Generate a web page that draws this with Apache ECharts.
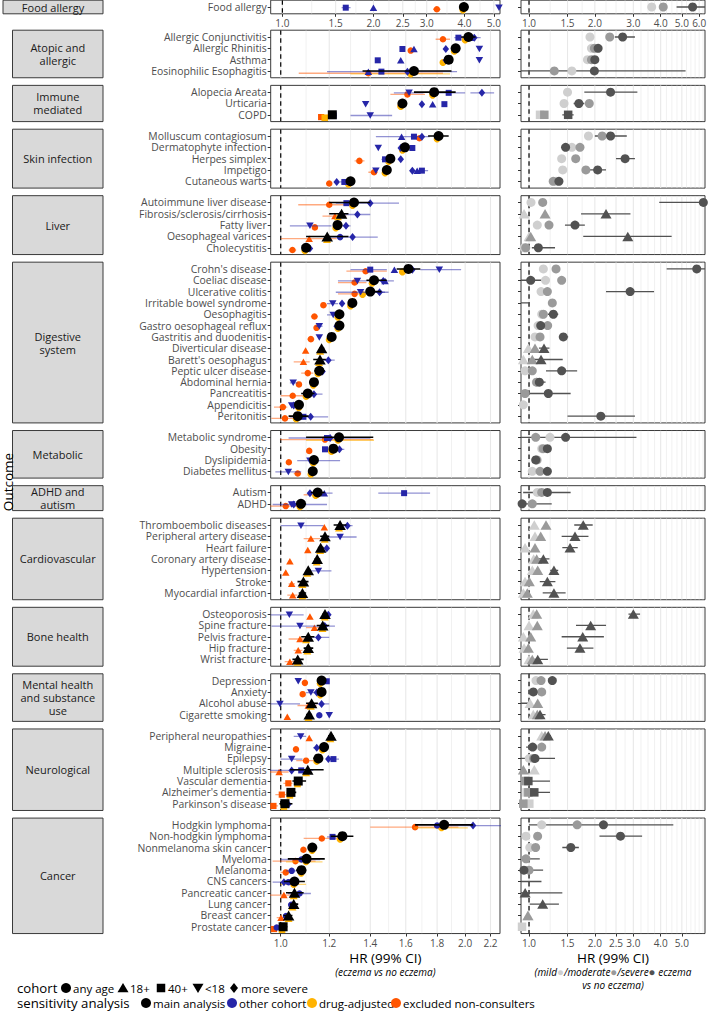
<!DOCTYPE html>
<html><head><meta charset="utf-8">
<script src="https://cdn.jsdelivr.net/npm/echarts@6/dist/echarts.min.js"></script>
<style>html,body{margin:0;padding:0;background:#fff}#c{width:713px;height:1011px}</style>
</head><body><div id="c"></div>
<script>
// ---------------- DATA ----------------
const groupNames = ['Food allergy','Atopic and\nallergic','Immune\nmediated','Skin infection','Liver','Digestive\nsystem','Metabolic','ADHD and\nautism','Cardiovascular','Bone health','Mental health\nand substance\nuse','Neurological','Cancer'];
const groupSizes = [1,4,3,5,5,14,4,2,7,5,4,7,10];
const outcomes = ['Food allergy',
 'Allergic Conjunctivitis','Allergic Rhinitis','Asthma','Eosinophilic Esophagitis',
 'Alopecia Areata','Urticaria','COPD',
 'Molluscum contagiosum','Dermatophyte infection','Herpes simplex','Impetigo','Cutaneous warts',
 'Autoimmune liver disease','Fibrosis/sclerosis/cirrhosis','Fatty liver','Oesophageal varices','Cholecystitis',
 "Crohn's disease",'Coeliac disease','Ulcerative colitis','Irritable bowel syndrome','Oesophagitis','Gastro oesophageal reflux','Gastritis and duodenitis','Diverticular disease',"Barett's oesophagus",'Peptic ulcer disease','Abdominal hernia','Pancreatitis','Appendicitis','Peritonitis',
 'Metabolic syndrome','Obesity','Dyslipidemia','Diabetes mellitus',
 'Autism','ADHD',
 'Thromboembolic diseases','Peripheral artery disease','Heart failure','Coronary artery disease','Hypertension','Stroke','Myocardial infarction',
 'Osteoporosis','Spine fracture','Pelvis fracture','Hip fracture','Wrist fracture',
 'Depression','Anxiety','Alcohol abuse','Cigarette smoking',
 'Peripheral neuropathies','Migraine','Epilepsy','Multiple sclerosis','Vascular dementia',"Alzheimer's dementia","Parkinson's disease",
 'Hodgkin lymphoma','Non-hodgkin lymphoma','Nonmelanoma skin cancer','Myeloma','Melanoma','CNS cancers','Pancreatic cancer','Lung cancer','Breast cancer','Prostate cancer'];
// cohort of main estimate: c = any age, t = 18+, s = 40+
const cohortShape = ['c', 'c','c','c','c', 'c','c','s', 'c','c','c','c','c', 'c','t','c','t','c',
 'c','c','c','c','c','c','c','t','t','c','c','c','c','c', 'c','c','c','c', 'c','c',
 't','t','t','t','t','t','t', 't','t','t','t','t', 'c','c','t','t',
 't','c','c','t','s','s','s', 'c','c','c','c','c','c','t','t','t','s'];
// main analysis (black)
const mainHR = [3.98, 2.025,1.93,1.88,1.65, 1.78,1.58,1.214, 1.81,1.595,1.51,1.49,1.30, 1.317,1.257,1.238,1.191,1.10,
 1.616,1.42,1.40,1.309,1.247,1.247,1.211,1.166,1.159,1.156,1.133,1.107,1.071,1.066, 1.245,1.219,1.133,1.128, 1.149,1.079,
 1.25,1.181,1.162,1.147,1.109,1.089,1.085, 1.181,1.171,1.109,1.109,1.066, 1.166,1.166,1.123,1.113,
 1.208,1.177,1.152,1.107,1.068,1.039,1.016, 1.848,1.261,1.126,1.102,1.081,1.053,1.053,1.05,1.03,1.009];
const mainLo = [3.85, 1.97,1.91,1.86,1.36, 1.65,1.56,1.20, 1.74,1.57,1.49,1.47,1.28, 1.20,1.20,1.22,1.10,1.085,
 1.546,1.38,1.38,1.29,1.23,1.235,1.195,1.155,1.13,1.135,1.12,1.08,1.06,1.03, 1.10,1.20,1.12,1.115, 1.12,1.06,
 1.22,1.16,1.15,1.135,1.10,1.065,1.07, 1.17,1.145,1.08,1.09,1.045, 1.155,1.155,1.10,1.10,
 1.195,1.16,1.13,1.035,1.045,1.025,0.995, 1.657,1.207,1.115,1.027,1.06,1.012,1.02,1.035,1.01,0.995];
const mainHi = [4.12, 2.08,1.95,1.90,1.90, 1.93,1.60,1.23, 1.88,1.62,1.53,1.51,1.32, 1.40,1.29,1.26,1.29,1.115,
 1.69,1.49,1.46,1.33,1.265,1.26,1.225,1.178,1.185,1.18,1.145,1.135,1.085,1.11, 1.416,1.24,1.145,1.14, 1.18,1.10,
 1.28,1.20,1.175,1.16,1.12,1.11,1.10, 1.195,1.20,1.135,1.13,1.09, 1.18,1.178,1.15,1.125,
 1.22,1.195,1.17,1.175,1.10,1.06,1.045, 2.06,1.314,1.14,1.18,1.10,1.095,1.09,1.068,1.045,1.025];
// drug-adjusted (yellow)
const drugHR = [3.95, 2.0,1.92,1.84,1.63, 1.77,1.57,1.18, 1.80,1.58,1.50,1.48,1.29, 1.31,1.24,1.23,1.19,1.095,
 1.58,1.41,1.36,1.30,1.24,1.24,1.20,1.16,1.155,1.15,1.13,1.10,1.07,1.06, 1.24,1.21,1.13,1.12, 1.14,1.075,
 1.245,1.18,1.16,1.145,1.105,1.085,1.085, 1.18,1.17,1.10,1.105,1.065, 1.16,1.16,1.12,1.11,
 1.205,1.17,1.145,1.10,1.065,1.035,1.012, 1.83,1.25,1.125,1.10,1.08,1.05,1.05,1.045,1.03,1.005];
const drugCI = [[4,1.30,1.89],[32,1.10,1.42],[61,1.65,2.02],[64,1.02,1.17],[66,1.0,1.10]];
// excluded non-consulters (orange)
const exclHR = [3.24, 1.84,1.63,null,1.39, 1.61,1.57,1.164, 1.684,null,1.344,1.42,1.20, 1.20,1.226,1.137,1.113,1.045,
 1.376,1.32,1.32,1.174,1.135,1.144,1.12,1.098,1.089,1.107,1.071,1.046,1.008,1.016, 1.181,1.113,1.031,1.066, 1.145,1.019,
 1.178,1.12,1.107,1.035,1.019,1.042,1.046, 1.116,1.135,1.075,1.068,1.035, 1.095,1.086,1.109,1.025,
 1.113,1.059,1.10,0.994,1.029,1.004,0.973, 1.657,1.167,1.089,1.057,1.019,null,1.012,null,1.001,0.975];
const exclLo = [3.15, 1.79,null,null,1.07, 1.51,null,null, null,null,1.32,1.39,null, 1.068,1.17,null,1.0,1.03,
 1.28,1.24,1.24,1.16,1.12,null,1.105,null,1.05,1.08,null,1.0,0.975,0.965, 0.997,null,null,1.05, 1.09,0.96,
 null,1.09,null,null,null,1.03,1.025, null,1.10,1.03,1.05,1.015, null,null,1.065,null,
 null,null,1.06,0.96,1.01,0.98,0.962, 1.40,1.09,null,0.97,1.0,null,0.96,null,0.985,0.965];
const exclHi = [3.33, 1.89,null,null,1.84, 1.72,null,null, null,null,1.37,1.44,null, 1.314,1.28,null,1.234,1.06,
 1.49,1.38,1.35,1.19,1.15,null,1.135,null,1.115,1.13,null,1.09,1.025,1.055, 1.416,null,null,1.08, 1.19,1.065,
 null,1.16,null,null,null,1.055,1.065, null,1.175,1.11,1.085,1.055, null,null,1.145,null,
 null,null,1.14,1.03,1.045,1.02,0.99, 1.95,1.24,null,1.14,1.035,null,1.05,null,1.015,0.985];
// other cohort (blue): [outcome index, cohort, HR, lo, hi]  (v = <18, d = more severe)
const otherCohort = [
 [0,'s',1.62,1.57,1.68],[0,'t',2.0,null,null],[0,'v',5.2,null,null],
 [1,'s',1.95,1.92,1.99],[1,'t',2.05,null,null],[1,'d',2.07,2.02,2.12],
 [2,'s',1.58,null,null],[2,'t',1.65,null,null],[2,'d',1.86,null,null],[2,'v',2.11,null,null],
 [3,'s',1.44,null,null],[3,'t',1.57,null,null],[3,'d',1.86,null,null],[3,'v',2.11,null,null],
 [4,'t',1.39,1.19,1.94],[4,'s',1.46,null,null],[4,'d',1.61,null,null],
 [5,'v',1.62,1.53,1.71],[5,'s',1.88,1.78,2.0],[5,'d',2.13,2.04,2.23],
 [6,'v',1.376,null,null],[6,'d',1.70,null,null],[6,'t',1.77,null,null],[6,'s',1.85,null,null],
 [7,'s',1.22,1.21,1.235],[7,'v',1.40,1.30,1.52],
 [8,'t',1.575,1.43,1.75],[8,'s',1.65,null,null],[8,'d',1.70,null,null],
 [9,'v',1.443,null,null],[9,'d',1.57,null,null],[9,'s',1.64,null,null],
 [10,'s',1.48,1.46,1.50],[10,'d',1.57,null,null],
 [11,'v',1.43,null,null],[11,'d',1.64,null,null],[11,'t',1.67,null,null],[11,'s',1.70,1.66,1.74],
 [12,'d',1.234,null,null],[12,'s',1.27,1.25,1.29],
 [13,'s',1.28,null,null],[13,'d',1.40,1.23,1.56],
 [14,'t',1.25,null,null],[14,'d',1.334,1.25,1.40],
 [15,'v',1.116,1.035,1.21],[15,'d',1.278,1.25,1.30],
 [16,'c',1.25,null,null],[16,'d',1.31,1.20,1.44],
 [17,'d',1.116,null,null],
 [18,'s',1.40,1.30,1.49],[18,'t',1.533,null,null],[18,'d',1.64,null,null],[18,'v',1.815,1.69,1.97],
 [19,'v',1.334,1.24,1.41],[19,'d',1.47,1.42,1.53],[19,'t',1.48,null,null],
 [20,'v',1.35,1.23,1.48],[20,'d',1.45,1.40,1.50],
 [21,'v',1.216,1.19,1.24],[21,'d',1.259,null,null],
 [22,'v',1.218,1.19,1.26],
 [23,'v',1.156,1.14,1.17],[23,'d',1.234,null,null],
 [24,'v',1.156,null,null],
 [26,'d',1.196,1.16,1.225],
 [27,'d',1.17,null,null],
 [28,'v',1.048,1.035,1.065],
 [29,'d',1.133,1.10,1.17],
 [30,'v',1.042,null,null],[30,'d',1.05,null,null],
 [31,'s',1.089,null,null],[31,'d',1.119,1.035,1.195],
 [32,'s',1.19,null,null],[32,'d',1.204,1.03,1.40],
 [33,'s',1.181,1.17,1.195],[33,'d',1.247,1.23,1.27],
 [34,'v',1.116,1.064,1.25],
 [35,'v',1.029,0.98,1.08],[35,'d',1.125,null,null],
 [36,'d',1.116,null,null],[36,'t',1.178,1.16,1.215],[36,'s',1.59,1.443,1.753],
 [37,'v',1.042,0.97,1.19],[37,'d',1.05,null,null],
 [38,'v',1.079,1.0,1.174],[38,'d',1.285,1.26,1.31],
 [39,'v',1.25,1.189,1.33],
 [40,'d',1.189,null,null],
 [42,'v',1.152,1.109,1.21],
 [45,'v',1.033,0.963,1.09],[45,'d',1.196,null,null],
 [46,'v',1.075,0.966,1.226],[46,'d',1.18,null,null],
 [47,'d',1.152,1.12,1.20],
 [50,'v',1.068,null,null],[50,'s',1.189,null,null],
 [51,'v',1.12,1.10,1.145],[51,'d',1.145,null,null],
 [52,'v',0.997,0.963,1.075],[52,'d',1.166,1.14,1.20],
 [53,'c',1.156,null,null],[53,'v',1.20,null,null],
 [54,'v',1.078,1.05,1.10],
 [55,'d',1.145,1.13,1.165],
 [56,'v',1.042,1.0,1.085],[56,'d',1.196,null,null],[56,'s',1.219,1.20,1.245],
 [57,'d',1.042,0.96,1.13],[57,'s',1.08,null,null],
 [58,'s',1.07,null,null],[59,'s',1.04,null,null],[60,'d',1.029,null,null],
 [61,'c',1.80,null,null],[61,'d',2.06,1.85,2.35],
 [62,'s',1.215,1.19,1.24],
 [64,'c',1.081,1.0,1.16],[65,'c',1.042,1.02,1.065],
 [66,'d',1.012,0.97,1.04],[66,'c',1.03,null,null],
 [67,'c',1.073,1.027,1.12],[68,'c',1.04,null,null],[69,'c',1.02,null,null],[70,'c',0.985,null,null]
];
// severity (right panel)
const mildHR = [3.64, 1.90,1.93,1.85,1.57, 1.50,1.446,1.123, 1.87,1.57,1.41,1.426,1.33, 1.021,0.949,1.091,1.0,0.95,
 1.163,1.19,1.135,null,1.143,1.10,1.065,0.993,0.942,0.959,1.08,null,0.942,null, 1.247,1.143,1.091,1.035, 1.091,null,
 1.057,1.065,0.959,1.05,1.035,0.959,0.942, 1.046,1.0,0.942,0.949,1.0, 1.076,null,1.011,1.046,
 1.143,null,1.003,1.057,0.96,0.975,1.003, 1.143,0.968,1.008,null,null,null,null,null,0.99,0.929];
const moderateHR = [4.11, 2.34,1.99,1.93,1.305, null,1.886,1.175, 2.16,1.71,1.635,1.82,1.29, 1.155,1.184,1.234,1.018,0.966,
 1.329,1.41,1.213,1.278,1.163,1.217,1.123,1.065,1.035,1.035,1.084,0.959,null,null, 1.073,1.16,1.084,1.123, 1.143,1.035,
 1.196,1.131,1.065,1.084,1.096,1.003,0.982, 1.084,1.091,1.018,0.993,1.035, 1.135,1.143,1.096,1.091,
 1.184,1.143,1.05,0.942,0.96,0.993,0.942, 1.66,1.095,1.072,0.968,1.0,null,null,null,0.988,null];
const severeHR = [5.6, 2.68,2.07,2.0,1.99, 2.36,1.69,1.51, 2.36,1.47,2.75,2.06,1.37, 6.27,2.25,1.623,2.83,1.103,
 5.85,1.018,2.9,null,1.292,1.131,1.435,1.171,1.135,1.41,1.115,1.225,null,2.13, 1.47,1.213,1.073,1.213, 1.213,0.93,
 1.77,1.623,1.54,1.163,1.30,1.213,1.30, 3.0,1.914,1.76,1.71,1.096, 1.278,1.046,null,1.123,
 1.225,1.039,1.065,null,0.993,1.057,null, 2.19,2.62,1.553,null,0.948,null,0.96,1.155,null,null];
const severeLo = [4.73, 2.47,2.0,1.94,0.89, 1.79,1.6,1.42, 2.0,1.40,2.5,1.9,1.31, 3.94,1.73,1.46,1.77,1.03,
 4.26,0.89,2.25,0.85,1.22,1.08,1.37,1.11,1.046,1.196,1.08,1.003,null,1.50, 0.89,1.16,1.04,1.17, 0.94,0.85,
 1.61,1.41,1.42,1.10,1.25,1.12,1.155, 2.85,1.64,1.41,1.49,1.011, 1.24,1.01,0.89,1.05,
 1.19,0.97,0.89,null,0.94,0.96,null, 1.0,2.10,1.42,0.93,0.89,0.89,0.91,1.008,null,null];
const severeHi = [6.5, 3.05,2.15,2.07,5.2, 3.13,1.79,1.60, 2.8,1.52,3.05,2.25,1.43, 8,2.91,1.80,4.49,1.315,
 8,1.14,3.73,1.01,1.36,1.18,1.51,1.24,1.426,1.66,1.19,1.55,null,3.05, 3.1,1.26,1.11,1.25, 1.55,1.27,
 1.955,1.87,1.67,1.24,1.36,1.32,1.47, 3.22,2.25,2.2,1.97,1.22, 1.31,1.085,1.011,1.19,
 1.26,1.08,1.315,null,1.247,1.247,null, 4.57,3.29,1.69,1.12,1.16,1.14,1.42,1.37,null,null];
// axis ticks
const leftTopTicks = [1.0,1.5,2.0,2.5,3.0,4.0,5.0];
const leftBottomTicks = [1.0,1.2,1.4,1.6,1.8,2.0,2.2];
const rightTopTicks = [1.0,1.5,2.0,3.0,4.0,5.0,6.0];
const rightBottomTicks = [1.0,1.5,2.0,2.5,3.0,4.0,5.0];
const leftTopGrid = [1.0,1.25,1.5,1.75,2.0,2.25,2.5,2.75,3.0,3.5,4.0,4.5,5.0];
const leftBottomGrid = [1.0,1.1,1.2,1.3,1.4,1.5,1.6,1.7,1.8,1.9,2.0,2.1,2.2];
const rightGrid = [1.0,1.25,1.5,1.75,2.0,2.25,2.5,2.75,3.0,3.25,3.5,3.75,4.0,4.25,4.5,4.75,5.0,5.25,5.5,5.75,6.0,6.25];

// ---------------- STYLE / LAYOUT ----------------
const FONT = '"Open Sans", "Noto Sans", "DejaVu Sans", sans-serif';
const BLUE = '#2626A8', ORANGE = '#FF5500', YELLOW = '#FFB300';
const MILD = '#cfcfcf', MOD = '#9a9a9a', SEV = '#525252';
const ROW = 11.32, HALF = 6.8, STEP = 21.2;
const LEFT_X = 270.7, LEFT_W = 229.3, RIGHT_X = 521, RIGHT_W = 184;
const LEFT_MIN = 0.963, LEFT_MAX = 2.28, TOP_MIN = 0.915, TOP_MAX = 5.24, R_MIN = 0.919, R_MAX = 6.38;
const SYM = ['circle','path://M5,0L10,8.66L0,8.66Z','rect','path://M0,0L10,0L5,8.66Z','path://M5,0L10,5L5,10L0,5Z'];
const CODE = {c:0,t:1,s:2,v:3,d:4};
const SZ_MAIN = [10,[11.5,10],9,[11,9.5],[8,10]];
const SZ_BLUE = [6.5,[7.5,6.5],6,[7.5,6.5],[6.5,8]];
const SZ_ORG = [6.5,[7.5,6.5],6.2,[7.5,6.5],[6.5,8]];
const SZ_YEL = [7,[8,7],6.6,[8,7],[7,8.5]];
const SZ_SEV = [9,[11,9.5],8.5,[11,9.5],[8,10]];

const starts = []; let acc = 0; groupSizes.forEach(n => { starts.push(acc); acc += n; });
const tops = [7 - HALF], heights = [2 * HALF];
let fr = 37;
for (let g = 1; g < groupSizes.length; g++) {
  const n = groupSizes[g];
  tops.push(fr - HALF); heights.push((n - 1) * ROW + 2 * HALF);
  fr += (n - 1) * ROW + STEP;
}

function xAx(gi, min, max, ticks) {
  return {type:'log', logBase:10, gridIndex:gi, min, max,
    axisLine:{show:false, onZero:false}, splitLine:{show:false}, minorTick:{show:false}, minorSplitLine:{show:false},
    axisTick: ticks ? {show:true, customValues:ticks, length:3, lineStyle:{color:'#333', width:1}} : {show:false},
    axisLabel: ticks ? {show:true, customValues:ticks, formatter:(v)=>Number(v).toFixed(1), color:'#4d4d4d', fontSize:10, lineHeight:11, fontFamily:FONT, margin:4} : {show:false}};
}
function yAx(gi, n, names, labels) {
  const vals = []; for (let k = 0; k < n; k++) vals.push(k);
  return {type:'value', gridIndex:gi, inverse:true, min:-0.6, max:n - 0.4,
    axisLine:{show:false, onZero:false}, splitLine:{show:false},
    axisTick:{show:true, customValues:vals, length:3, lineStyle:{color:'#333', width:1}},
    axisLabel:{show:labels, customValues:vals, formatter:(v)=>names[Math.round(v)], color:'#4d4d4d', fontSize:10.4, lineHeight:10, fontFamily:FONT, margin:4}};
}
function vlines(gi, vals, majors, z) {
  return {type:'custom', xAxisIndex:gi, yAxisIndex:gi, z, silent:true, animation:false, clip:true,
    data: vals.map(v => [v, 0]), encode:{x:0, y:1},
    renderItem:(p, api) => {
      const v = api.value(0); const x = api.coord([v, 0])[0]; const cs = p.coordSys;
      const major = majors.indexOf(v) >= 0;
      return {type:'line', shape:{x1:x, y1:cs.y, x2:x, y2:cs.y + cs.height},
        style:{stroke:'#e8e8e8', lineWidth: major ? 1.1 : 0.6}};
    }};
}
function dashed(gi, z) {
  return {type:'custom', xAxisIndex:gi, yAxisIndex:gi, z, silent:true, animation:false,
    data:[[1, 0]], encode:{x:0, y:1},
    renderItem:(p, api) => {
      const x = api.coord([1, 0])[0]; const cs = p.coordSys;
      return {type:'line', shape:{x1:x, y1:cs.y, x2:x, y2:cs.y + cs.height},
        style:{stroke:'#000', lineWidth:1.2, lineDash:[4.5, 3.5]}};
    }};
}
function ci(gi, data, color, width, z) {
  return {type:'custom', xAxisIndex:gi, yAxisIndex:gi, z, silent:true, animation:false, clip:true,
    data, encode:{x:[0, 1], y:2},
    renderItem:(p, api) => {
      const a = api.coord([api.value(0), api.value(2)]), b = api.coord([api.value(1), api.value(2)]);
      return {type:'line', shape:{x1:a[0], y1:a[1], x2:b[0], y2:b[1]}, style:{stroke:color, lineWidth:width}};
    }};
}
function pts(gi, data, color, sizes, z) {
  return {type:'scatter', xAxisIndex:gi, yAxisIndex:gi, z, silent:true, animation:false, clip:true,
    data, symbol:(v) => SYM[v[2]], symbolSize:(v) => sizes[v[2]],
    itemStyle:{color, opacity:1, borderWidth:0}};
}

const grid = [], xAxis = [], yAxis = [], series = [];
const G = groupSizes.length;
for (let g = 0; g < G; g++) {
  const n = groupSizes[g], s0 = starts[g];
  const gl = 2 * g, gr = 2 * g + 1;
  const isTop = g === 0, isBot = g === G - 1;
  grid.push({left:LEFT_X, top:tops[g], width:LEFT_W, height:heights[g], show:true, borderColor:'#3a3a3a', borderWidth:1, backgroundColor:'#fff'});
  grid.push({left:RIGHT_X, top:tops[g], width:RIGHT_W, height:heights[g], show:true, borderColor:'#3a3a3a', borderWidth:1, backgroundColor:'#fff'});
  xAxis.push(xAx(gl, isTop ? TOP_MIN : LEFT_MIN, isTop ? TOP_MAX : LEFT_MAX, isTop ? leftTopTicks : (isBot ? leftBottomTicks : null)));
  xAxis.push(xAx(gr, R_MIN, R_MAX, isTop ? rightTopTicks : (isBot ? rightBottomTicks : null)));
  const names = outcomes.slice(s0, s0 + n);
  yAxis.push(yAx(gl, n, names, true));
  yAxis.push(yAx(gr, n, names, false));

  // left panel
  series.push(vlines(gl, isTop ? leftTopGrid : leftBottomGrid, isTop ? leftTopTicks : leftBottomTicks, 1));
  series.push(dashed(gl, 2));
  const oCI = [], yCI = [], bCI = [], kCI = [], oP = [], yP = [], bP = [], kP = [];
  for (let i = s0; i < s0 + n; i++) {
    const r = i - s0, sh = CODE[cohortShape[i]];
    if (exclHR[i] != null) {
      if (exclLo[i] != null) oCI.push([exclLo[i], exclHi[i], r + 0.2]);
      oP.push([exclHR[i], r + 0.2, sh]);
    }
    yP.push([drugHR[i], r + 0.26, sh]);
    kCI.push([mainLo[i], mainHi[i], r]);
    kP.push([mainHR[i], r, sh]);
  }
  drugCI.forEach(d => { if (d[0] >= s0 && d[0] < s0 + n) yCI.push([d[1], d[2], d[0] - s0 + 0.26]); });
  otherCohort.forEach(d => {
    if (d[0] >= s0 && d[0] < s0 + n) {
      const r = d[0] - s0 + 0.06;
      if (d[3] != null) bCI.push([d[3], d[4], r]);
      bP.push([d[2], r, CODE[d[1]]]);
    }
  });
  series.push(ci(gl, oCI, 'rgba(255,85,0,0.5)', 1.3, 3));
  series.push(pts(gl, oP, ORANGE, SZ_ORG, 4));
  series.push(ci(gl, yCI, 'rgba(255,179,0,0.55)', 1.3, 5));
  series.push(pts(gl, yP, YELLOW, SZ_YEL, 6));
  series.push(ci(gl, bCI, 'rgba(38,38,168,0.5)', 1.3, 7));
  series.push(pts(gl, bP, BLUE, SZ_BLUE, 8));
  series.push(ci(gl, kCI, '#000', 1.6, 9));
  series.push(pts(gl, kP, '#000', SZ_MAIN, 10));

  // right panel
  series.push(vlines(gr, rightGrid, isTop ? rightTopTicks : rightBottomTicks, 1));
  series.push(dashed(gr, 2));
  const sCI = [], mlP = [], mdP = [], svP = [];
  for (let i = s0; i < s0 + n; i++) {
    const r = i - s0, sh = CODE[cohortShape[i]];
    if (severeLo[i] != null) sCI.push([severeLo[i], severeHi[i], r]);
    if (mildHR[i] != null) mlP.push([mildHR[i], r, sh]);
    if (moderateHR[i] != null) mdP.push([moderateHR[i], r, sh]);
    if (severeHR[i] != null) svP.push([severeHR[i], r, sh]);
  }
  series.push(ci(gr, sCI, SEV, 1.3, 3));
  series.push(pts(gr, mlP, MILD, SZ_SEV, 4));
  series.push(pts(gr, mdP, MOD, SZ_SEV, 5));
  series.push(pts(gr, svP, SEV, SZ_SEV, 6));
}

// ---------------- GRAPHIC: strips, titles, legend ----------------
function txt(x, y, text, opt) {
  return {type:'text', x, y, silent:true, style:Object.assign({text, fill:'#1a1a1a', fontSize:11, fontFamily:FONT,
    align:'left', verticalAlign:'middle', textAlign:'left', textVerticalAlign:'middle'}, opt || {})};
}
function symShape(shape, cx, cy, r, color) {
  if (shape === 'c') return {type:'circle', silent:true, shape:{cx, cy, r}, style:{fill:color}};
  if (shape === 't') return {type:'polygon', silent:true, shape:{points:[[cx, cy - r], [cx + r * 1.1, cy + r * 0.85], [cx - r * 1.1, cy + r * 0.85]]}, style:{fill:color}};
  if (shape === 's') return {type:'rect', silent:true, shape:{x:cx - r * 0.85, y:cy - r * 0.85, width:r * 1.7, height:r * 1.7}, style:{fill:color}};
  if (shape === 'v') return {type:'polygon', silent:true, shape:{points:[[cx - r * 1.1, cy - r * 0.85], [cx + r * 1.1, cy - r * 0.85], [cx, cy + r]]}, style:{fill:color}};
  return {type:'polygon', silent:true, shape:{points:[[cx, cy - r], [cx + r * 0.8, cy], [cx, cy + r], [cx - r * 0.8, cy]]}, style:{fill:color}};
}
const elements = [];
for (let g = 0; g < G; g++) {
  const x0 = g === 0 ? 3 : 12.5;
  elements.push({type:'rect', silent:true, shape:{x:x0, y:tops[g], width:103 - x0, height:heights[g]}, style:{fill:'#d9d9d9', stroke:'#3a3a3a', lineWidth:1}});
  elements.push(txt((x0 + 103) / 2, tops[g] + heights[g] / 2, groupNames[g], {align:'center', textAlign:'center', fontSize:11, lineHeight:13}));
}
elements.push(Object.assign(txt(7.5, 482, 'Outcome', {align:'center', textAlign:'center', fontSize:13.5, lineHeight:12, fill:'#000'}), {rotation:Math.PI / 2}));
const lc = LEFT_X + LEFT_W / 2, rc = RIGHT_X + RIGHT_W / 2;
elements.push(txt(lc, 957.5, 'HR (99% CI)', {align:'center', textAlign:'center', fontSize:13.5, lineHeight:11, fill:'#000'}));
elements.push(txt(lc, 971.5, '(eczema vs no eczema)', {align:'center', textAlign:'center', fontSize:10, lineHeight:10, fontStyle:'italic', fill:'#000'}));
elements.push(txt(rc, 957.5, 'HR (99% CI)', {align:'center', textAlign:'center', fontSize:13.5, lineHeight:11, fill:'#000'}));
elements.push(txt(rc, 971.5, '(mild{l|●}/moderate{m|●}/severe{s|●} eczema', {align:'center', textAlign:'center', fontSize:10, lineHeight:10, fontStyle:'italic', fill:'#000',
  rich:{l:{fill:MILD, fontSize:11.5, lineHeight:10, fontStyle:'normal'}, m:{fill:MOD, fontSize:11.5, lineHeight:10, fontStyle:'normal'}, s:{fill:SEV, fontSize:11.5, lineHeight:10, fontStyle:'normal'}}}));
elements.push(txt(rc, 984.5, 'vs no eczema)', {align:'center', textAlign:'center', fontSize:10, lineHeight:10, fontStyle:'italic', fill:'#000'}));

const cohortLegend = [['c','any age'],['t','18+'],['s','40+'],['v','<18'],['d','more severe']];
const cohortX = [66, 123, 161, 198, 234];
const sensLegend = [['main analysis','#000'],['other cohort',BLUE],['drug-adjusted',YELLOW],['excluded non-consulters',ORANGE]];
const sensX = [146, 232, 312, 396];
const L1 = 988, L2 = 1003;
elements.push(txt(17, L1, 'cohort', {fontSize:13.2, lineHeight:12, fill:'#000'}));
cohortLegend.forEach((it, k) => {
  elements.push(symShape(it[0], cohortX[k], L1, 5, '#000'));
  elements.push(txt(cohortX[k] + 7, L1, it[1], {fontSize:11.5, lineHeight:11, fill:'#000'}));
});
elements.push(txt(17, L2, 'sensitivity analysis', {fontSize:13.2, lineHeight:12, fill:'#000'}));
sensLegend.forEach((it, k) => {
  elements.push(symShape('c', sensX[k], L2, 5, it[1]));
  elements.push(txt(sensX[k] + 7, L2, it[0], {fontSize:11.5, lineHeight:11, fill:'#000'}));
});

const chart = echarts.init(document.getElementById('c'), null, {renderer:'svg', width:713, height:1011});
chart.setOption({animation:false, backgroundColor:'#fff', textStyle:{fontFamily:FONT},
  grid, xAxis, yAxis, series, graphic:{elements}});
</script></body></html>
